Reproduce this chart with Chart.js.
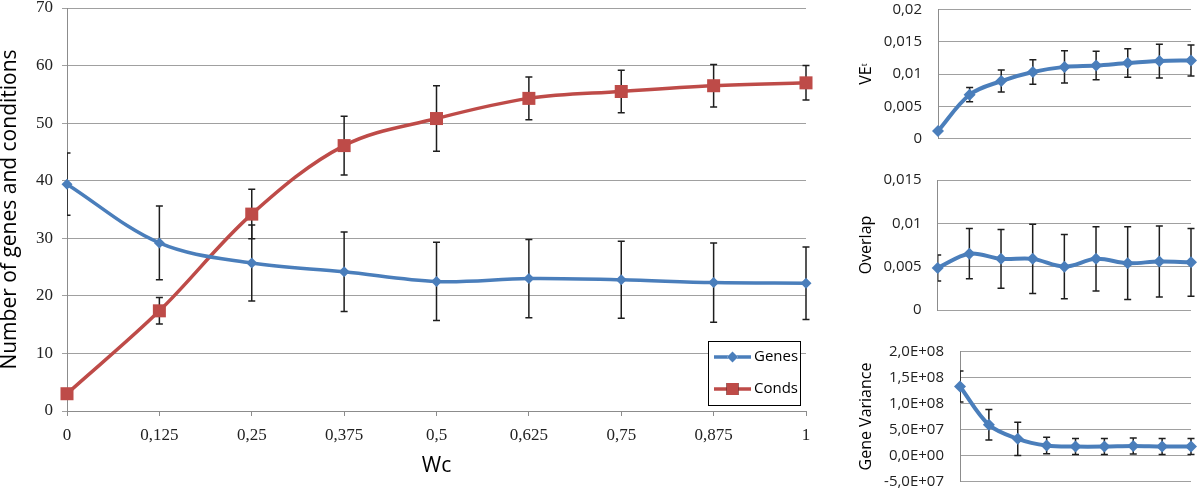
<!DOCTYPE html>
<html><head><meta charset="utf-8">
<script src="https://cdn.jsdelivr.net/npm/chart.js@4.4.1/dist/chart.umd.min.js"></script>
<style>
html,body{margin:0;padding:0;background:#fff;}
body{width:1200px;height:489px;position:relative;overflow:hidden;}
.c{position:absolute;}
</style></head><body>
<div class="c" style="left:0;top:0;width:830px;height:489px"><canvas id="main"></canvas></div>
<div class="c" style="left:850px;top:0;width:350px;height:150px"><canvas id="ve"></canvas></div>
<div class="c" style="left:850px;top:160px;width:350px;height:160px"><canvas id="ov"></canvas></div>
<div class="c" style="left:850px;top:330px;width:350px;height:159px"><canvas id="gv"></canvas></div>
<script>
// ---- data ----
const wcLabels = ['0','0,125','0,25','0,375','0,5','0,625','0,75','0,875','1'];
const genesMean = [39.4, 29.2, 25.7, 24.2, 22.5, 23.0, 22.8, 22.3, 22.2];
const genesErr  = [5.4, 6.4, 6.6, 6.9, 6.8, 6.8, 6.7, 6.9, 6.3];
const condsMean = [3.0, 17.4, 34.2, 46.1, 50.8, 54.3, 55.5, 56.5, 57.0];
const condsErr  = [0.3, 2.3, 4.3, 5.1, 5.7, 3.7, 3.7, 3.7, 3.0];
const veMean = [0.0012, 0.0068, 0.0089, 0.0103, 0.0111, 0.0113, 0.0117, 0.0120, 0.0121];
const veErr  = [0.0002, 0.0011, 0.0017, 0.0019, 0.0025, 0.0022, 0.0022, 0.0026, 0.0024];
const veTicks = ['0','0,005','0,01','0,015','0,02'];
const ovMean = [0.00485, 0.0065, 0.0059, 0.0059, 0.0050, 0.0059, 0.0054, 0.0056, 0.0055];
const ovErr  = [0.0015, 0.0029, 0.0034, 0.0040, 0.0037, 0.0037, 0.0042, 0.0041, 0.0039];
const ovTicks = ['0','0,005','0,01','0,015'];
const gvMean = [1.33e8, 5.9e7, 3.2e7, 1.9e7, 1.7e7, 1.7e7, 1.8e7, 1.7e7, 1.7e7];
const gvErr  = [3.0e7, 2.95e7, 3.2e7, 1.6e7, 1.55e7, 1.55e7, 1.55e7, 1.55e7, 1.55e7];
const gvTicks = ['-5,0E+07','0,0E+00','5,0E+07','1,0E+08','1,5E+08','2,0E+08'];

const BLUE = '#4A7EBB', RED = '#BE4B48', GRID = '#a0a0a0', AXIS = '#8c8c8c';

const errorBars = {
  id: 'errorBars',
  beforeDatasetsDraw(chart) {
    const {ctx, chartArea} = chart;
    const y = chart.scales.y;
    ctx.save();
    ctx.beginPath();
    ctx.rect(chartArea.left, 0, chart.width - chartArea.left, chart.height);
    ctx.clip();
    ctx.strokeStyle = '#1e1e1e';
    ctx.lineWidth = 1.5;
    const cap = 3.5;
    chart.data.datasets.forEach((ds, i) => {
      if (!ds.errors) return;
      const meta = chart.getDatasetMeta(i);
      meta.data.forEach((pt, j) => {
        const v = ds.data[j], e = ds.errors[j];
        const yt = y.getPixelForValue(v + e), yb = y.getPixelForValue(v - e);
        const x = pt.x;
        ctx.beginPath();
        ctx.moveTo(x, yt); ctx.lineTo(x, yb);
        ctx.moveTo(x - cap, yt); ctx.lineTo(x + cap, yt);
        ctx.moveTo(x - cap, yb); ctx.lineTo(x + cap, yb);
        ctx.stroke();
      });
    });
    ctx.restore();
  }
};

const boxLegend = {
  id: 'boxLegend',
  afterDraw(chart) {
    const {ctx, chartArea} = chart;
    const w = 92, h = 64;
    const x0 = chartArea.right - 6 - w, y0 = chartArea.bottom - 6 - h;
    ctx.save();
    ctx.fillStyle = '#fff';
    ctx.fillRect(x0, y0, w, h);
    ctx.strokeStyle = '#000';
    ctx.lineWidth = 1;
    ctx.strokeRect(x0 + 0.5, y0 + 0.5, w, h);
    chart.data.datasets.forEach((ds, i) => {
      const cy = y0 + 16 + i * 32;
      ctx.strokeStyle = ds.borderColor;
      ctx.lineWidth = 3.5;
      ctx.beginPath();
      ctx.moveTo(x0 + 6, cy); ctx.lineTo(x0 + 43, cy);
      ctx.stroke();
      Chart.helpers.drawPoint(ctx, {pointStyle: ds.pointStyle, radius: i === 0 ? 5.5 : 8.5, borderWidth: 0}, x0 + 24.5, cy);
      ctx.fillStyle = ds.backgroundColor;
      ctx.fill();
      ctx.fillStyle = '#000';
      ctx.font = '15px "Open Sans"';
      ctx.textBaseline = 'middle';
      ctx.textAlign = 'left';
      ctx.fillText(ds.label, x0 + 46, cy);
    });
    ctx.restore();
  }
};

new Chart(document.getElementById('main'), {
  type: 'line',
  data: {
    labels: wcLabels,
    datasets: [
      {label: 'Genes', data: genesMean, errors: genesErr, borderColor: BLUE, backgroundColor: BLUE,
       borderWidth: 3.5, pointStyle: 'rectRot', pointRadius: 5.5, pointBorderWidth: 0, tension: 0.35, clip: false},
      {label: 'Conds', data: condsMean, errors: condsErr, borderColor: RED, backgroundColor: RED,
       borderWidth: 3.5, pointStyle: 'rect', pointRadius: 9.2, pointBorderWidth: 0, tension: 0.35, clip: false}
    ]
  },
  options: {
    responsive: true, maintainAspectRatio: false, animation: false, events: [],
    layout: {autoPadding: false, padding: {left: 0, right: 24, top: 8, bottom: 0}},
    plugins: {legend: {display: false}, tooltip: {enabled: false}},
    scales: {
      x: {
        offset: false,
        grid: {display: true, drawOnChartArea: false, drawTicks: true, tickLength: 5, color: AXIS},
        border: {display: true, color: AXIS},
        ticks: {font: {family: 'Liberation Serif', size: 17, lineHeight: 1}, color: '#222', padding: 11, maxRotation: 0, autoSkip: false},
        title: {display: true, text: 'Wc', font: {family: 'Open Sans', size: 21, lineHeight: 1}, color: '#000', padding: {top: 0, bottom: 12}},
        afterFit(s) { s.height = 78; s.paddingLeft = 0; s.paddingRight = 0; }
      },
      y: {
        min: 0, max: 70,
        ticks: {stepSize: 10, font: {family: 'Liberation Serif', size: 17, lineHeight: 1}, color: '#222', padding: 9},
        grid: {color: GRID, tickLength: 5},
        border: {display: true, color: AXIS},
        title: {display: true, text: 'Number of genes and conditions', font: {family: 'Open Sans', size: 21, lineHeight: 1}, color: '#000', padding: 0},
        afterFit(s) { s.width = 67; s.paddingTop = 0; s.paddingBottom = 0; }
      }
    }
  },
  plugins: [errorBars, boxLegend]
});

function smallChart(id, mean, err, min, max, step, tickLabels, title, leftW, padTop, padBottom) {
  new Chart(document.getElementById(id), {
    type: 'line',
    data: {
      labels: wcLabels,
      datasets: [{data: mean, errors: err, borderColor: BLUE, backgroundColor: BLUE, borderWidth: 4,
        pointStyle: 'rectRot', pointRadius: 6, pointBorderWidth: 0, tension: 0.35, clip: false}]
    },
    options: {
      responsive: true, maintainAspectRatio: false, animation: false, events: [],
      layout: {autoPadding: false, padding: {left: 0, right: 9, top: padTop, bottom: padBottom}},
      plugins: {legend: {display: false}, tooltip: {enabled: false}},
      scales: {
        x: {display: false, offset: false},
        y: {
          min: min, max: max,
          ticks: {stepSize: step, font: {family: 'Open Sans', size: 15, lineHeight: 1}, color: '#222', padding: 16,
            callback: (v) => tickLabels[Math.round((v - min) / step)]},
          grid: {color: GRID, drawTicks: false},
          border: {display: true, color: AXIS},
          title: {display: true, text: title, font: {family: 'Open Sans', size: 16, lineHeight: 1}, color: '#000', padding: {top: 8}},
          afterFit(s) { s.width = leftW; s.paddingTop = 0; s.paddingBottom = 0; }
        }
      }
    },
    plugins: [errorBars]
  });
}

smallChart('ve', veMean, veErr, 0, 0.02, 0.005, veTicks, 'VE\u1D57', 88, 9.3, 11.3);
smallChart('ov', ovMean, ovErr, 0, 0.015, 0.005, ovTicks, 'Overlap', 87.7, 20, 10);
smallChart('gv', gvMean, gvErr, -5e7, 2e8, 5e7, gvTicks, 'Gene Variance', 110, 21.7, 7.7);
</script>
</body></html>
